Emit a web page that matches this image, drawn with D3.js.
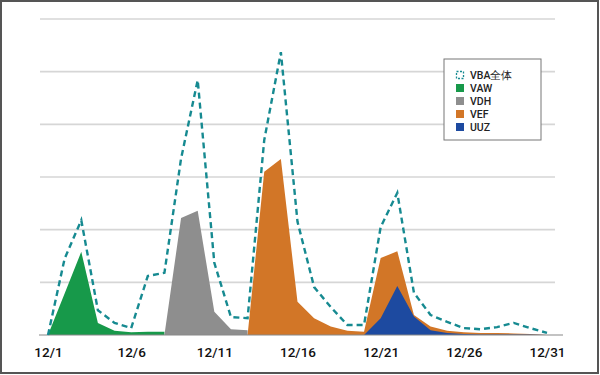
<!DOCTYPE html>
<html>
<head>
  <meta charset="utf-8">
  <script src="https://d3js.org/d3.v7.min.js"></script>
  <style>
    body { margin: 0; background: #fff; }
    text { font-family: Roboto, "Liberation Sans", Arial, sans-serif; }
  </style>
</head>
<body>
  <svg width="600" height="375"></svg>
  <script>
    // days 12/1 .. 12/31
    const days = d3.range(1, 32)
    const tickDays = [1, 6, 11, 16, 21, 26, 31]

    const total = [0, 14.5, 21.8, 4.7, 2.3, 1.3, 11.2, 11.8, 33.5, 48.4, 13.7, 3.4, 3.2, 37, 53.7,
      21.5, 9.1, 5.3, 1.9, 1.9, 20.5, 27, 8, 3.8, 2.5, 1.3, 1.1, 1.5, 2.3, 1.3, 0.4]
    const vaw = [0, 7.9, 15.8, 2.3, 0.8, 0.5, 0.6, 0.6, null, null, null, null, null, null, null,
      null, null, null, null, null, null, null, null, null, null, null, null, null, null, null, null]
    const vdh = [null, null, null, null, null, null, null, 0, 22.2, 23.6, 4.4, 1.1, 0.9, null, null,
      null, null, null, null, null, null, null, null, null, null, null, null, null, null, null, null]
    const vef = [null, null, null, null, null, null, null, null, null, null, null, null, 0, 31, 33.4,
      6.3, 3.2, 1.6, 0.8, 0.6, 14.6, 15.9, 3.8, 1.6, 0.8, 0.5, 0.4, 0.4, 0.3, 0.2, 0]
    const uuz = [null, null, null, null, null, null, null, null, null, null, null, null, null, null, null,
      null, null, null, null, 0, 3.2, 9.3, 3.5, 0.9, 0.4, 0.2, 0.1, 0.1, 0.1, 0.1, 0]

    const seriesNames = ["VAW", "VDH", "VEF", "UUZ"]
    const seriesData = [vaw, vdh, vef, uuz]
    const colors = ["#17994a", "#8e8e8e", "#d27627", "#1d4aa0"]
    const totalName = "VBA全体"
    const totalColor = "#168a91"

    const svg = d3.select("svg")

    // outer frame
    svg.append("rect")
      .attr("x", 1).attr("y", 1).attr("width", 597).attr("height", 372)
      .attr("fill", "none").attr("stroke", "#555").attr("stroke-width", 2)

    const x = d3.scaleLinear().domain([1, 31]).range([48, 547])
    const y = d3.scaleLinear().domain([0, 60]).range([335, 19])

    // grid
    svg.append("g")
      .selectAll("line")
      .data(d3.range(10, 61, 10))
      .enter().append("line")
      .attr("x1", 40).attr("x2", 555)
      .attr("y1", d => y(d)).attr("y2", d => y(d))
      .attr("stroke", "#d6d6d6").attr("stroke-width", 1.6)

    const area = d3.area()
      .defined(d => d[1] != null)
      .x(d => x(d[0]))
      .y0(y(0))
      .y1(d => y(d[1]))

    seriesData.forEach((s, i) => {
      svg.append("path")
        .datum(days.map((d, j) => [d, s[j]]))
        .attr("fill", colors[i])
        .attr("d", area)
    })

    // baseline
    svg.append("line")
      .attr("x1", 39).attr("x2", 563)
      .attr("y1", y(0)).attr("y2", y(0))
      .attr("stroke", "#888").attr("stroke-width", 1.2)

    const line = d3.line()
      .x(d => x(d[0]))
      .y(d => y(d[1]))

    svg.append("path")
      .datum(days.map((d, j) => [d, total[j]]))
      .attr("fill", "none")
      .attr("stroke", totalColor)
      .attr("stroke-width", 2.4)
      .attr("stroke-dasharray", "6,4")
      .attr("d", line)

    // x axis labels
    const xAxis = d3.axisBottom(x)
      .tickValues(tickDays)
      .tickSize(0)
      .tickPadding(12)
      .tickFormat(d => "12/" + d)

    const gx = svg.append("g")
      .attr("transform", `translate(0,${y(0)})`)
      .call(xAxis)
    gx.select(".domain").remove()
    gx.selectAll("text")
      .attr("font-size", 13.5)
      .attr("font-weight", 500)
      .attr("fill", "#111")
      .style("font-family", "Roboto, 'Liberation Sans', Arial, sans-serif")

    // legend
    const lg = svg.append("g").attr("transform", "translate(444,59)")
    lg.append("rect")
      .attr("width", 97).attr("height", 81)
      .attr("fill", "#fff").attr("stroke", "#777").attr("stroke-width", 1)

    const items = [totalName].concat(seriesNames)
    items.forEach((name, i) => {
      const g = lg.append("g").attr("transform", `translate(12,${16 + i * 13})`)
      if (i === 0) {
        g.append("rect")
          .attr("x", 0.5).attr("y", -3.5).attr("width", 7).attr("height", 7)
          .attr("fill", "none").attr("stroke", totalColor)
          .attr("stroke-width", 1.3).attr("stroke-dasharray", "2,1.5")
      } else {
        g.append("rect")
          .attr("x", 0).attr("y", -4).attr("width", 8).attr("height", 8)
          .attr("fill", colors[i - 1])
      }
      g.append("text")
        .attr("x", 14).attr("y", 0)
        .attr("dy", "0.35em")
        .attr("font-size", 10.5)
        .attr("font-weight", 500)
        .attr("fill", "#222")
        .text(name)
    })
  </script>
</body>
</html>
